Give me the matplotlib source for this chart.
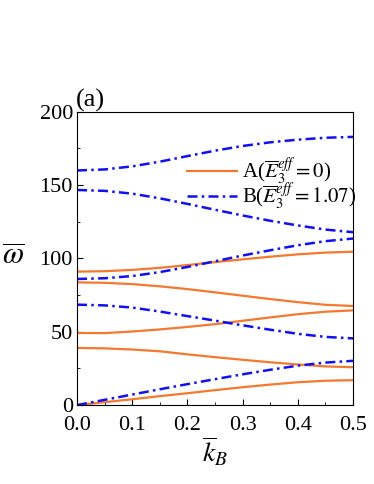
import numpy as np
import matplotlib.pyplot as plt

plt.rcParams.update({'font.size': 16,
                     'font.family': 'serif',
                     'font.serif': ['Liberation Serif'],
                     'mathtext.fontset': 'stix'})

kb = [0.0, 0.05, 0.1, 0.15, 0.2, 0.25, 0.3, 0.35, 0.4, 0.45, 0.5]

# case A (E3eff = 0), five branches
A1 = [0.0, 2.0, 4.0, 6.1, 8.1, 10.2, 12.2, 14.0, 15.6, 16.6, 17.0]
A2 = [39.0, 38.7, 37.9, 36.7, 34.6, 32.7, 30.9, 29.2, 27.7, 26.4, 25.8]
A3 = [49.2, 49.1, 50.2, 51.6, 53.3, 55.2, 57.5, 59.8, 62.0, 63.7, 64.6]
A4 = [83.7, 83.4, 82.5, 81.0, 79.1, 76.9, 74.6, 72.3, 70.2, 68.4, 67.6]
A5 = [91.0, 91.3, 92.2, 93.6, 95.5, 97.5, 99.4, 101.2, 102.8, 104.0, 104.6]

# case B (E3eff = 1.07)
B1 = [0.0, 3.6, 7.2, 10.8, 14.3, 17.7, 21.0, 24.1, 26.9, 29.0, 30.2]
B2 = [68.5, 68.0, 66.5, 63.8, 60.7, 57.6, 54.4, 51.4, 48.6, 46.5, 45.5]
B3 = [86.0, 86.5, 88.0, 90.7, 94.2, 98.1, 102.0, 105.6, 109.0, 111.8, 113.6]
B4 = [146.7, 146.1, 144.2, 141.0, 137.2, 133.2, 129.3, 125.7, 122.5, 119.7, 117.9]
B5 = [160.0, 160.7, 162.8, 166.0, 169.8, 173.5, 176.7, 179.2, 181.0, 182.3, 182.9]

orange = '#F4792F'
blue = '#1010F0'

fig = plt.figure(figsize=(3.74, 4.84), dpi=100)
ax = fig.add_axes([0.206, 0.163, 0.738, 0.606])

for i, y in enumerate([A1, A2, A3, A4, A5]):
    ax.plot(kb, y, '-', color=orange, lw=1.6,
            label=r'A($\overline{E}_3^{eff}=0$)' if i == 0 else None)
for i, y in enumerate([B1, B2, B3, B4, B5]):
    ax.plot(kb, y, color=blue, lw=1.8, dashes=(4, 1.7, 1, 1.7),
            label=r'B($\overline{E}_3^{eff}=1.07$)' if i == 0 else None)

ax.set_xlim(0, 0.5)
ax.set_ylim(0, 200)
ax.set_xticks([0.0, 0.1, 0.2, 0.3, 0.4, 0.5])
ax.set_xticks(np.arange(0.05, 0.5, 0.1), minor=True)
ax.set_yticks([0, 50, 100, 150, 200])
ax.set_yticks([25, 75, 125, 175], minor=True)
ax.tick_params(which='both', direction='in', top=False, right=False)
ax.tick_params(which='major', length=4, pad=3)
ax.tick_params(axis='x', which='major', pad=8)
ax.tick_params(which='minor', length=2.5)
ax.set_xticklabels(['0.0', '0.1', '0.2', '0.3', '0.4', '0.5'])

ax.set_xlabel(r'$\overline{k}_B$', fontsize=20, labelpad=0)
ax.set_ylabel(r'$\overline{\omega}$', fontsize=22, rotation=0,
              ha='center', va='center')
ax.yaxis.set_label_coords(-0.23, 0.505)
ax.text(-0.005, 1.0, '(a)', transform=ax.transAxes, fontsize=19,
        ha='left', va='bottom')

ax.legend(loc='upper left', bbox_to_anchor=(0.4, 0.85), frameon=False,
          handlelength=2.4, handletextpad=0.2, labelspacing=-0.3,
          borderaxespad=0, borderpad=0, fontsize=15)

plt.savefig('out.png', dpi=100)
